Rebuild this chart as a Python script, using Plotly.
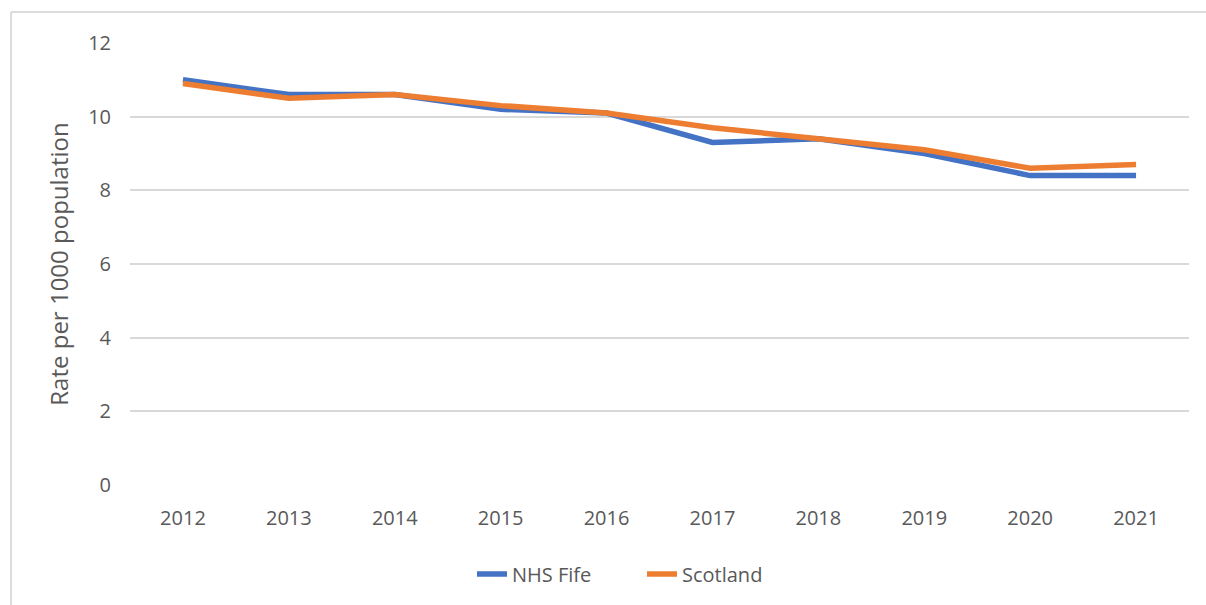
import plotly.graph_objects as go

# Rate per 1000 population, 2012-2021
years = ["2012", "2013", "2014", "2015", "2016", "2017", "2018", "2019", "2020", "2021"]
nhs_fife = [11.0, 10.6, 10.6, 10.2, 10.1, 9.3, 9.4, 9.0, 8.4, 8.4]
scotland = [10.9, 10.5, 10.6, 10.3, 10.1, 9.7, 9.4, 9.1, 8.6, 8.7]
y_ticks = [0, 2, 4, 6, 8, 10, 12]

W, H = 1206, 605
L, R, T, B = 130, 17, 43, 120
pw, ph = W - L - R, H - T - B

text_color = "#595959"
grid_color = "#d9d9d9"
font_family = "Open Sans, Lato, sans-serif"

fig = go.Figure()
fig.add_trace(go.Scatter(
    x=years, y=nhs_fife, name="NHS Fife", mode="lines",
    line=dict(color="#4472C4", width=5.5),
))
fig.add_trace(go.Scatter(
    x=years, y=scotland, name="Scotland", mode="lines",
    line=dict(color="#ED7D31", width=5.5),
))

# outer chart border (left and top edges visible)
bx = (11 - L) / pw
by = 1 + (T - 12) / ph
fig.add_shape(type="line", xref="paper", yref="paper",
              x0=bx, x1=bx, y0=-(B + 10) / ph, y1=by,
              line=dict(color="#d0d0d0", width=1.5))
fig.add_shape(type="line", xref="paper", yref="paper",
              x0=bx, x1=1 + (R + 10) / pw, y0=by, y1=by,
              line=dict(color="#d0d0d0", width=1.5))

fig.update_layout(
    width=W, height=H,
    margin=dict(l=L, r=R, t=T, b=B),
    paper_bgcolor="white", plot_bgcolor="white",
    font=dict(family=font_family, color=text_color, size=20),
    showlegend=True,
    legend=dict(
        orientation="h", xref="container", yref="container",
        x=472 / W, xanchor="left", y=1 - 574 / H, yanchor="middle",
        font=dict(size=20, color=text_color),
        entrywidth=125, entrywidthmode="pixels",
        tracegroupgap=0,
    ),
    xaxis=dict(
        type="category", range=[-0.5, 9.5],
        showgrid=False, zeroline=False, showline=False,
        ticks="", ticklabelstandoff=19,
        tickfont=dict(size=20, color=text_color),
    ),
    yaxis=dict(
        range=[0, 12], tickvals=y_ticks,
        showgrid=True, gridcolor=grid_color, gridwidth=1.5,
        zeroline=False, showline=False, ticks="",
        ticklabelstandoff=18,
        tickfont=dict(size=20, color=text_color),
        title=dict(text="Rate per 1000 population", standoff=12,
                   font=dict(size=24, color=text_color)),
    ),
)

fig.write_html("out.html")
